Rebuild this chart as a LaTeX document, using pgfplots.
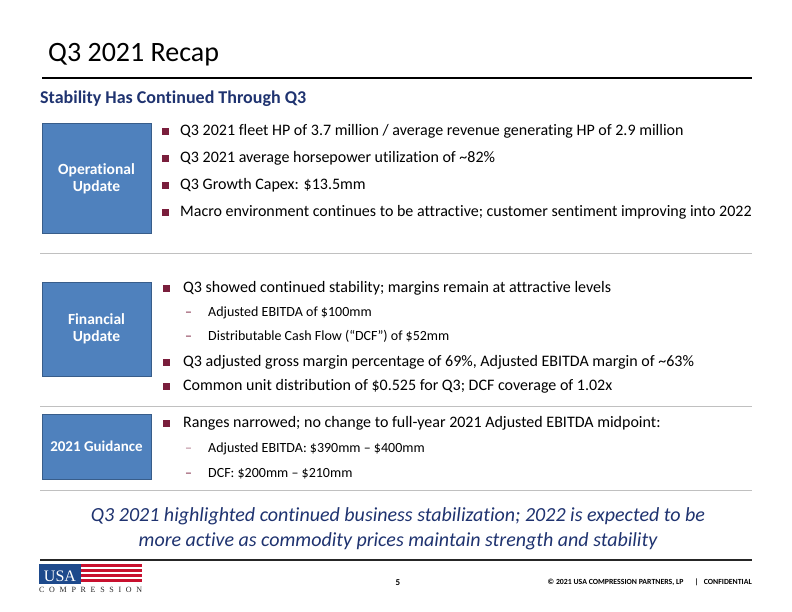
\documentclass[border=0pt]{standalone}
\usepackage{pgfplots}
\pgfplotsset{compat=1.18}
\usepackage{fontspec}
\setmainfont{Carlito}[Ligatures={NoCommon,TeX}]
\newfontfamily\logofont{Liberation Serif}
\definecolor{boxblue}{HTML}{4F81BD}
\definecolor{boxedge}{HTML}{385D8A}
\definecolor{navy}{HTML}{1F3370}
\definecolor{maroon}{HTML}{7A1E3C}
\definecolor{sepgray}{HTML}{C0C0C0}
\definecolor{logoblue}{HTML}{1E4A8C}
\definecolor{logored}{HTML}{C8102E}
\begin{document}
\begin{tikzpicture}
\begin{axis}[
  scale only axis, width=792pt, height=612pt,
  xmin=0, xmax=792, ymin=0, ymax=612, y dir=reverse,
  axis lines=none, ticks=none, clip=false,
]
% background
\fill[white] (axis cs:0,0) rectangle (axis cs:792,612);
% title
\node[anchor=base west, inner sep=0pt, font=\fontsize{28}{32}\selectfont] at (axis cs:48,62) {Q3 2021 Recap};
\draw[black, line width=1.4pt] (axis cs:42,78) -- (axis cs:752,78);
\node[anchor=base west, inner sep=0pt, text=navy, font=\fontsize{18}{20}\selectfont\bfseries] at (axis cs:40,104) {Stability Has Continued Through Q3};
% boxes
\filldraw[fill=boxblue, draw=boxedge, line width=1pt] (axis cs:42,124) rectangle (axis cs:151,234);
\node[text=white, align=center, font=\fontsize{15.5}{17}\selectfont\bfseries] at (axis cs:96.5,179) {Operational\\Update};
\filldraw[fill=boxblue, draw=boxedge, line width=1pt] (axis cs:42,282) rectangle (axis cs:151,376);
\node[text=white, align=center, font=\fontsize{15.5}{17}\selectfont\bfseries] at (axis cs:96.5,329) {Financial\\Update};
\filldraw[fill=boxblue, draw=boxedge, line width=1pt] (axis cs:42,414) rectangle (axis cs:151,479);
\node[text=white, align=center, font=\fontsize{15}{17}\selectfont\bfseries] at (axis cs:96.5,446.5) {2021 Guidance};
% separators
\draw[sepgray, line width=1pt] (axis cs:40,254) -- (axis cs:752,254);
\draw[sepgray, line width=1pt] (axis cs:40,406) -- (axis cs:752,406);
\draw[sepgray, line width=1pt] (axis cs:40,490) -- (axis cs:752,490);
% bullet squares
\addplot[only marks, mark=square*, mark size=3.1pt, color=maroon] coordinates {
 (165.5,131) (165.5,158) (165.5,185) (165.5,212)
 (166,288) (166,362) (166,386)
 (166,423)
};
% bullet text
\begin{scope}[every node/.style={anchor=base west, inner sep=0pt, font=\fontsize{16}{18}\selectfont}]
\node at (axis cs:180,135.5) {Q3 2021 fleet HP of 3.7 million / average revenue generating HP of 2.9 million};
\node at (axis cs:180,162.5) {Q3 2021 average horsepower utilization of \textasciitilde82\%};
\node at (axis cs:180,189.5) {Q3 Growth Capex: \$13.5mm};
\node at (axis cs:180,216.5) {Macro environment continues to be attractive; customer sentiment improving into 2022};
\node at (axis cs:183,292.5) {Q3 showed continued stability; margins remain at attractive levels};
\node at (axis cs:183,366.5) {Q3 adjusted gross margin percentage of 69\%, Adjusted EBITDA margin of \textasciitilde63\%};
\node at (axis cs:183,390.5) {Common unit distribution of \$0.525 for Q3; DCF coverage of 1.02x};
\node at (axis cs:183,427.5) {Ranges narrowed; no change to full-year 2021 Adjusted EBITDA midpoint:};
\end{scope}
\begin{scope}[every node/.style={anchor=base west, inner sep=0pt, font=\fontsize{14}{16}\selectfont}]
\node[text=maroon] at (axis cs:185,316) {--};
\node[text=maroon] at (axis cs:185,340) {--};
\node[text=maroon!60] at (axis cs:185,452) {--};
\node[text=maroon] at (axis cs:185,477) {--};
\node at (axis cs:208,316) {Adjusted EBITDA of \$100mm};
\node at (axis cs:208,340) {Distributable Cash Flow (“DCF”) of \$52mm};
\node at (axis cs:208,452) {Adjusted EBITDA: \$390mm -- \$400mm};
\node at (axis cs:208,477) {DCF: \$200mm -- \$210mm};
\end{scope}
% conclusion
\node[anchor=base, inner sep=0pt, text=navy, font=\fontsize{20}{22}\selectfont\itshape] at (axis cs:398,521) {Q3 2021 highlighted continued business stabilization; 2022 is expected to be};
\node[anchor=base, inner sep=0pt, text=navy, font=\fontsize{20}{22}\selectfont\itshape] at (axis cs:398,546) {more active as commodity prices maintain strength and stability};
% footer
\draw[black!85, line width=2pt] (axis cs:40,560) -- (axis cs:752,560);
\node[anchor=base, inner sep=0pt, font=\fontsize{9}{10}\selectfont\bfseries] at (axis cs:398,585.5) {5};
\node[anchor=base east, inner sep=0pt, font=\fontsize{7.8}{9}\selectfont\bfseries] at (axis cs:752,584.5) {© 2021 USA COMPRESSION PARTNERS, LP\quad\ \ |\ \ \ CONFIDENTIAL};
% logo
\fill[logoblue] (axis cs:39,564) rectangle (axis cs:81,583.5);
\node[anchor=base, inner sep=0pt, text=white, font=\logofont\fontsize{16}{16}\selectfont] at (axis cs:60,581) {USA};
\fill[logored] (axis cs:81,564) rectangle (axis cs:142,566.5);
\fill[logored] (axis cs:81,569) rectangle (axis cs:142,571.5);
\fill[logored] (axis cs:81,574) rectangle (axis cs:142,576.5);
\fill[logored] (axis cs:81,579) rectangle (axis cs:142,581.5);
\node[anchor=base west, inner sep=0pt, text=black!85, font=\logofont\fontsize{8}{8}\selectfont] at (axis cs:39,592) {\makebox[103pt][s]{C O M P R E S S I O N}};
\end{axis}
\end{tikzpicture}
\end{document}
